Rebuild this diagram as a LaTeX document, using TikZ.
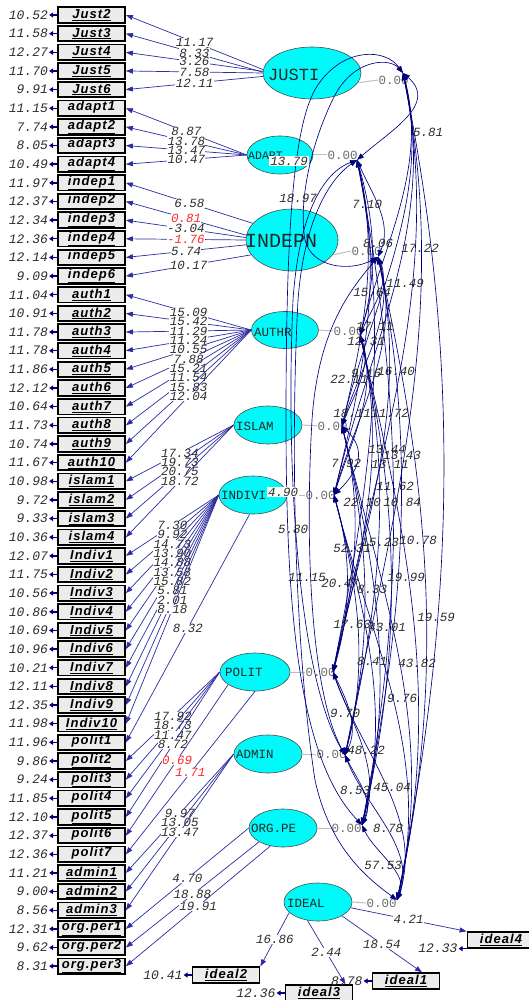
\documentclass[tikz,border=0pt]{standalone}
\usepackage{fontspec}
\setmainfont{Liberation Sans}
\newfontfamily\monofont{Liberation Mono}
\newfontfamily\boxfont[LetterSpace=8.0]{Liberation Sans}
\usetikzlibrary{arrows.meta,calc,shapes.geometric}
\definecolor{lisnavy}{RGB}{0,0,128}
\definecolor{lisload}{RGB}{45,45,160}
\definecolor{liscyan}{RGB}{0,250,250}
\definecolor{lisbox}{RGB}{236,236,236}
\definecolor{listext}{RGB}{45,45,45}
\definecolor{lisred}{RGB}{255,40,40}
\definecolor{lisgray}{RGB}{190,190,190}
\definecolor{liszero}{RGB}{110,110,110}
\begin{document}
\begin{tikzpicture}[x=1pt,y=-1pt,
  ind/.style={draw=black, line width=1.8pt, fill=lisbox, minimum width=67pt, minimum height=15.5pt, inner sep=0pt, font=\boxfont\bfseries\itshape\fontsize{13}{13}\selectfont},
  lat/.style={ellipse, draw=black!70, line width=0.6pt, fill=liscyan, inner sep=0pt, minimum width=68pt, minimum height=38pt},
  latt/.style={anchor=west, inner sep=0pt, text=black!85, font=\monofont\fontsize{12.5}{13}\selectfont},
  num/.style={inner sep=0.5pt, text=listext, font=\monofont\itshape\fontsize{12.5}{13}\selectfont},
  ldl/.style={num, fill=white, inner sep=0.3pt},
  errn/.style={num, anchor=east, font=\monofont\itshape\fontsize{13}{13}\selectfont},
  zero/.style={anchor=west, inner sep=0.5pt, text=liszero, font=\monofont\fontsize{12.5}{13}\selectfont},
  ld/.style={draw=lisload, line width=0.7pt, -{Triangle[length=7pt,width=5pt]}},
  err/.style={draw=lisnavy, line width=1.4pt, -{Triangle[length=4pt,width=5pt]}},
  cov/.style={draw=lisnavy, line width=0.65pt, {Triangle[length=7pt,width=5pt]}-{Triangle[length=7pt,width=5pt]}},
  stub/.style={draw=lisgray, line width=1pt}]
\useasboundingbox (0,0) rectangle (528,1000);
\fill[white] (0,0) rectangle (528,1000);

% indicator boxes
\foreach \nm [count=\k from 0] in {Just2,Just3,Just4,Just5,Just6,adapt1,adapt2,adapt3,adapt4,indep1,indep2,indep3,indep4,indep5,indep6,auth1,auth2,auth3,auth4,auth5,auth6,auth7,auth8,auth9,auth10,islam1,islam2,islam3,islam4,Indiv1,Indiv2,Indiv3,Indiv4,Indiv5,Indiv6,Indiv7,Indiv8,Indiv9,Indiv10,polit1,polit2,polit3,polit4,polit5,polit6,polit7,admin1,admin2,admin3,org.per1,org.per2,org.per3}
  \node[ind] (b\k) at (91.5,{15+18.65*\k}) {\underline{\nm}};

\foreach \v [count=\k from 0] in {10.52,11.58,12.27,11.70,9.91,11.15,7.74,8.05,10.49,11.97,12.37,12.34,12.36,12.14,9.09,11.04,10.91,11.78,11.78,11.86,12.12,10.64,11.73,10.74,11.67,10.98,9.72,9.33,10.36,12.07,11.75,10.56,10.86,10.69,10.96,10.21,12.11,12.35,11.98,11.96,9.86,9.24,11.85,12.10,12.37,12.36,11.21,9.00,8.56,12.31,9.62,8.31}
  \draw[err] (b\k.west) -- ++(-8,0) node[errn] {\v};

% ideal boxes
\node[ind] (id4) at (501,940) {\underline{ideal4}};
\node[ind] (id1) at (406,981) {\underline{ideal1}};
\node[ind] (id3) at (319,993) {\underline{ideal3}};
\node[ind] (id2) at (226,975) {\underline{ideal2}};
\draw[err] (id2.west) -- ++(-8,0) node[errn] {10.41};
\draw[err] (id3.west) -- ++(-8,0) node[errn] {12.36};
\draw[err] (id1.west) -- ++(-8,0) node[errn] {8.78};
\draw[err] (id4.south west) -- ++(-8,0) node[errn] {12.33};

% latent variables
\node[lat, minimum width=98pt, minimum height=52pt] (justi) at (312,73) {};
\node[lat, minimum width=66pt, minimum height=38pt] (adapt) at (280,155) {};
\node[lat, minimum width=92pt, minimum height=62pt] (indepn) at (292,240) {};
\node[lat, minimum width=67pt, minimum height=37pt] (authr) at (285,330) {};
\node[lat] (islam) at (268,425) {};
\node[lat] (indivi) at (253,495) {};
\node[lat, minimum width=70pt] (polit) at (255,672) {};
\node[lat] (admin) at (268,754) {};
\node[lat] (orgpe) at (283,828) {};
\node[lat] (ideal) at (318,902) {};

\node[latt, font=\monofont\fontsize{17}{17}\selectfont] (tjusti) at (268,75) {JUSTI};
\node[latt, font=\monofont\fontsize{11.5}{12}\selectfont] (tadapt) at (248,156) {ADAPT};
\node[latt, font=\monofont\fontsize{20}{20}\selectfont] (tindepn) at (245,241) {INDEPN};
\node[latt] (tauthr) at (254,332) {AUTHR};
\node[latt] (tislam) at (236,426) {ISLAM};
\node[latt] (tindivi) at (221,495) {INDIVI};
\node[latt] (tpolit) at (225,672) {POLIT};
\node[latt] (tadmin) at (236,754) {ADMIN};
\node[latt] (torgpe) at (251,828) {ORG.PE};
\node[latt] (tideal) at (287,903) {IDEAL};

% loadings
\foreach \k/\a/\t in {0/176/11.17,1/179/8.33,2/178/3.26,3/180/7.58,4/184/12.11}
  \draw[ld] (justi.\a) -- node[ldl]{\t} (b\k.east);
\foreach \k/\t in {5/8.87,6/13.78,7/13.47,8/10.47}
  \draw[ld] (adapt.west) -- node[ldl]{\t} (b\k.east);
\draw[ld] (indepn.157) -- node[ldl]{6.58} (b9.east);
\draw[ld] (indepn.174) -- node[ldl,text=lisred]{0.81} (b10.east);
\draw[ld] (indepn.177) -- node[ldl]{-3.04} (b11.east);
\draw[ld] (indepn.180) -- node[ldl,text=lisred]{-1.76} (b12.east);
\draw[ld] (indepn.186) -- node[ldl]{5.74} (b13.east);
\draw[ld] (indepn.200) -- node[ldl]{10.17} (b14.east);
\foreach \k/\t in {15/15.09,16/15.42,17/11.29,18/11.24,19/10.55,20/7.88,21/15.21,22/11.54,23/15.83,24/12.04}
  \draw[ld] (authr.west) -- node[ldl]{\t} (b\k.east);
\foreach \k/\t in {25/17.34,26/19.73,27/20.75,28/18.72}
  \draw[ld] (islam.west) -- node[ldl]{\t} (b\k.east);
\foreach \k/\t in {29/7.30,30/9.92,31/14.73,32/13.90,33/14.88,34/13.58,35/15.82,36/5.81,37/2.01,38/8.18}
  \draw[ld] (indivi.west) -- node[ldl]{\t} (b\k.east);
\draw[ld] (indivi.260) -- node[ldl]{8.32} (b39.east);
\foreach \k/\t in {40/17.92,41/18.73,42/11.47,43/8.72}
  \draw[ld] (polit.west) -- node[ldl]{\t} (b\k.east);
\draw[ld] (polit.205) -- node[ldl,text=lisred]{0.69} (b44.east);
\draw[ld] (polit.south) -- node[ldl,text=lisred]{1.71} (b45.east);
\foreach \k/\t in {46/9.97,47/13.05,48/13.47}
  \draw[ld] (admin.west) -- node[ldl]{\t} (b\k.east);
\draw[ld] (orgpe.west) -- node[ldl]{4.70} (b49.east);
\draw[ld] (orgpe.210) -- node[ldl]{18.88} (b50.east);
\draw[ld] (orgpe.235) -- node[ldl]{19.91} (b51.east);

\draw[ld] (ideal.-10) -- node[ldl]{4.21} (id4.north west);
\draw[ld] (ideal.-30) -- node[ldl]{18.54} ($(id1.north)+(16,0)$);
\draw[ld] (ideal.-120) -- node[ldl]{2.44} ($(id3.north east)+(-8,0)$);
\draw[ld] (ideal.200) -- node[ldl]{16.86} (id2.north east);

% residual stubs
\node[zero] (z1) at (378,80) {0.00};
\node[zero] (z2) at (327,155) {0.00};
\node[zero] (z3) at (351,251) {0.00};
\node[zero] (z4) at (333,331) {0.00};
\node[zero] (z5) at (317,426) {0.00};
\node[zero] (z6) at (305,495) {0.00};
\node[zero] (z7) at (305,672) {0.00};
\node[zero] (z8) at (316,754) {0.00};
\node[zero] (z9) at (331,828) {0.00};
\node[zero] (z10) at (366,903) {0.00};
\draw[stub] (justi.-12) -- (z1.west);
\draw[stub] (adapt.east) -- (z2.west);
\draw[stub] (indepn.-20) -- (z3.west);
\draw[stub] (authr.east) -- (z4.west);
\draw[stub] (islam.east) -- (z5.west);
\draw[stub] (indivi.east) -- (z6.west);
\draw[stub] (polit.east) -- (z7.west);
\draw[stub] (admin.east) -- (z8.west);
\draw[stub] (orgpe.east) -- (z9.west);
\draw[stub] (ideal.east) -- (z10.west);

% covariance end points
\coordinate (p1) at (403,73);
\coordinate (p2) at (357,160);
\coordinate (p3) at (378,257);
\coordinate (p4) at (360,335);
\coordinate (p5) at (342,426);
\coordinate (p6) at (334,495);
\coordinate (p7) at (333,672);
\coordinate (p8) at (345,755);
\coordinate (p9) at (362,825);
\coordinate (p10) at (397,900);

% right-hand bundle of covariances
\foreach \i/\j/\d in {1/2/35,1/4/25,1/5/30,1/6/35,1/7/42,1/8/48,1/10/58,
  2/3/15,2/4/18,2/5/22,2/6/28,2/7/35,2/9/45,
  3/4/12,3/5/18,3/6/24,3/7/32,3/9/40,3/10/50,
  4/5/12,4/6/18,4/7/28,4/8/34,4/9/40,4/10/46,
  5/6/25,5/7/22,5/8/28,5/9/34,5/10/40,
  6/7/18,6/8/24,6/9/30,6/10/36,
  7/8/14,7/9/20,7/10/28,
  8/9/12,8/10/20,
  9/10/12}
  \draw[cov] let \p1=(p\i), \p2=(p\j), \n1={0.35*(\y1-\y2)} in
    (p\i) .. controls (\x1+\d pt,\y1-\n1) and (\x2+\d pt,\y2+\n1) .. (p\j);

% left-hand long covariances
\draw[cov] (p1) .. controls (385,48) and (345,48) .. (320,82) .. controls (294,115) and (286,220) .. (286,420) .. controls (286,620) and (300,760) .. (p9);
\draw[cov] (p1) .. controls (390,58) and (355,58) .. (335,95) .. controls (312,140) and (298,200) .. (305,240) .. controls (312,268) and (350,272) .. (p3);
\draw[cov] (p3) .. controls (350,290) and (318,330) .. (312,420) .. controls (305,540) and (310,690) .. (p8);
\draw[cov] (p2) .. controls (335,175) and (305,210) .. (298,300) .. controls (290,450) and (295,650) .. (315,780) .. controls (330,850) and (370,880) .. (p10);
\draw[cov] (p2) .. controls (330,170) and (300,200) .. (293,300) .. controls (285,480) and (300,680) .. (p8);

% covariance t-values
\foreach \t/\x/\y [count=\k] in {5.81/428/132,18.97/298/198,7.10/367/204,8.06/378/243,17.22/420/248,11.49/405/283,15.64/372/292,17.11/375/326,12.31/366/341,16.40/396/371,22.11/349/379,9.16/366/373,18.11/352/413,11.72/390/413,13.44/387/449,13.43/402/455,7.92/346/463,13.11/390/464,11.62/395/486,22.10/362/502,10.84/402/502,5.80/293/529,52.31/352/548,15.23/380/542,10.78/418/540,11.15/307/577,19.99/406/577,20.47/340/583,8.33/372/589,19.59/436/617,17.63/352/624,43.01/387/627,8.41/372/661,43.82/417/663,9.76/402/698,9.70/345/713,48.22/366/750,8.53/355/790,45.04/392/787,8.78/388/828,57.53/383/865}
  \node[num] (s\k) at (\x,\y) {\t};
\node[num, fill=white, inner sep=1pt] (s13x) at (289,161) {13.79};
\node[num, fill=white, inner sep=1pt] (s4x) at (283,492) {4.90};
\end{tikzpicture}
\end{document}
